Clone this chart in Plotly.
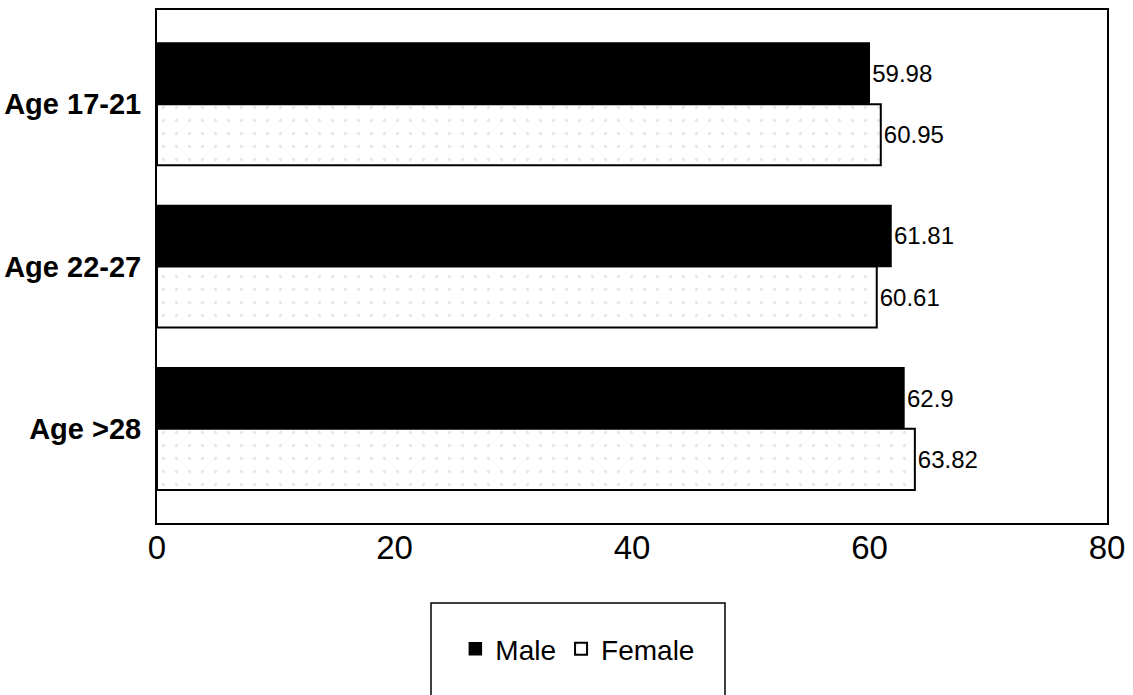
import plotly.graph_objects as go

categories = ["Age 17-21", "Age 22-27", "Age >28"]
male = [59.98, 61.81, 62.9]
female = [60.95, 60.61, 63.82]
x_ticks = [0, 20, 40, 60, 80]

FONT = "Liberation Sans, Arial, sans-serif"

fig = go.Figure()
fig.add_trace(go.Bar(
    name="Male", y=categories, x=male, orientation="h",
    marker=dict(color="black", line=dict(color="black", width=1.5)),
    text=[str(v) for v in male], textposition="outside",
    textfont=dict(family=FONT, size=24, color="black"),
    cliponaxis=False,
))
fig.add_trace(go.Bar(
    name="Female", y=categories, x=female, orientation="h",
    marker=dict(color="white", line=dict(color="black", width=2),
                pattern=dict(shape=".", fgcolor="#cfcfcf", bgcolor="white",
                             size=13, solidity=0.05)),
    text=[str(v) for v in female], textposition="outside",
    textfont=dict(family=FONT, size=24, color="black"),
    cliponaxis=False,
))

fig.update_layout(
    width=1133, height=695,
    margin=dict(l=157, r=26, t=10, b=172, autoexpand=False),
    paper_bgcolor="white", plot_bgcolor="white",
    barmode="group", bargap=0.247, bargroupgap=0,
    font=dict(family=FONT, color="black"),
    showlegend=True,
    legend=dict(
        orientation="h", x=0.443, xanchor="center", y=-0.197, yanchor="top",
        font=dict(family=FONT, size=28, color="black"),
        bgcolor="rgba(0,0,0,0)", borderwidth=0,
        itemwidth=30, traceorder="normal",
    ),
    shapes=[dict(
        type="rect", xref="paper", yref="paper",
        x0=(431 - 157) / 950, x1=(725 - 157) / 950,
        y0=(523 - 700) / 513, y1=(523 - 603) / 513,
        line=dict(color="black", width=1.5), fillcolor="rgba(0,0,0,0)",
    )],
)

fig.update_xaxes(
    range=[0, 80], tickvals=x_ticks, ticktext=[str(t) for t in x_ticks],
    showgrid=False, zeroline=False, ticks="",
    showline=True, linecolor="black", linewidth=2, mirror=True,
    tickfont=dict(family=FONT, size=33, color="black"),
    ticklabelstandoff=-6,
)
fig.update_yaxes(
    range=[2.58, -0.58], showgrid=False, zeroline=False, ticks="",
    showline=True, linecolor="black", linewidth=2, mirror=True,
    tickfont=dict(family=FONT, size=29, color="black", weight="bold"),
    ticklabelstandoff=8,
)

fig.write_html("out.html")
